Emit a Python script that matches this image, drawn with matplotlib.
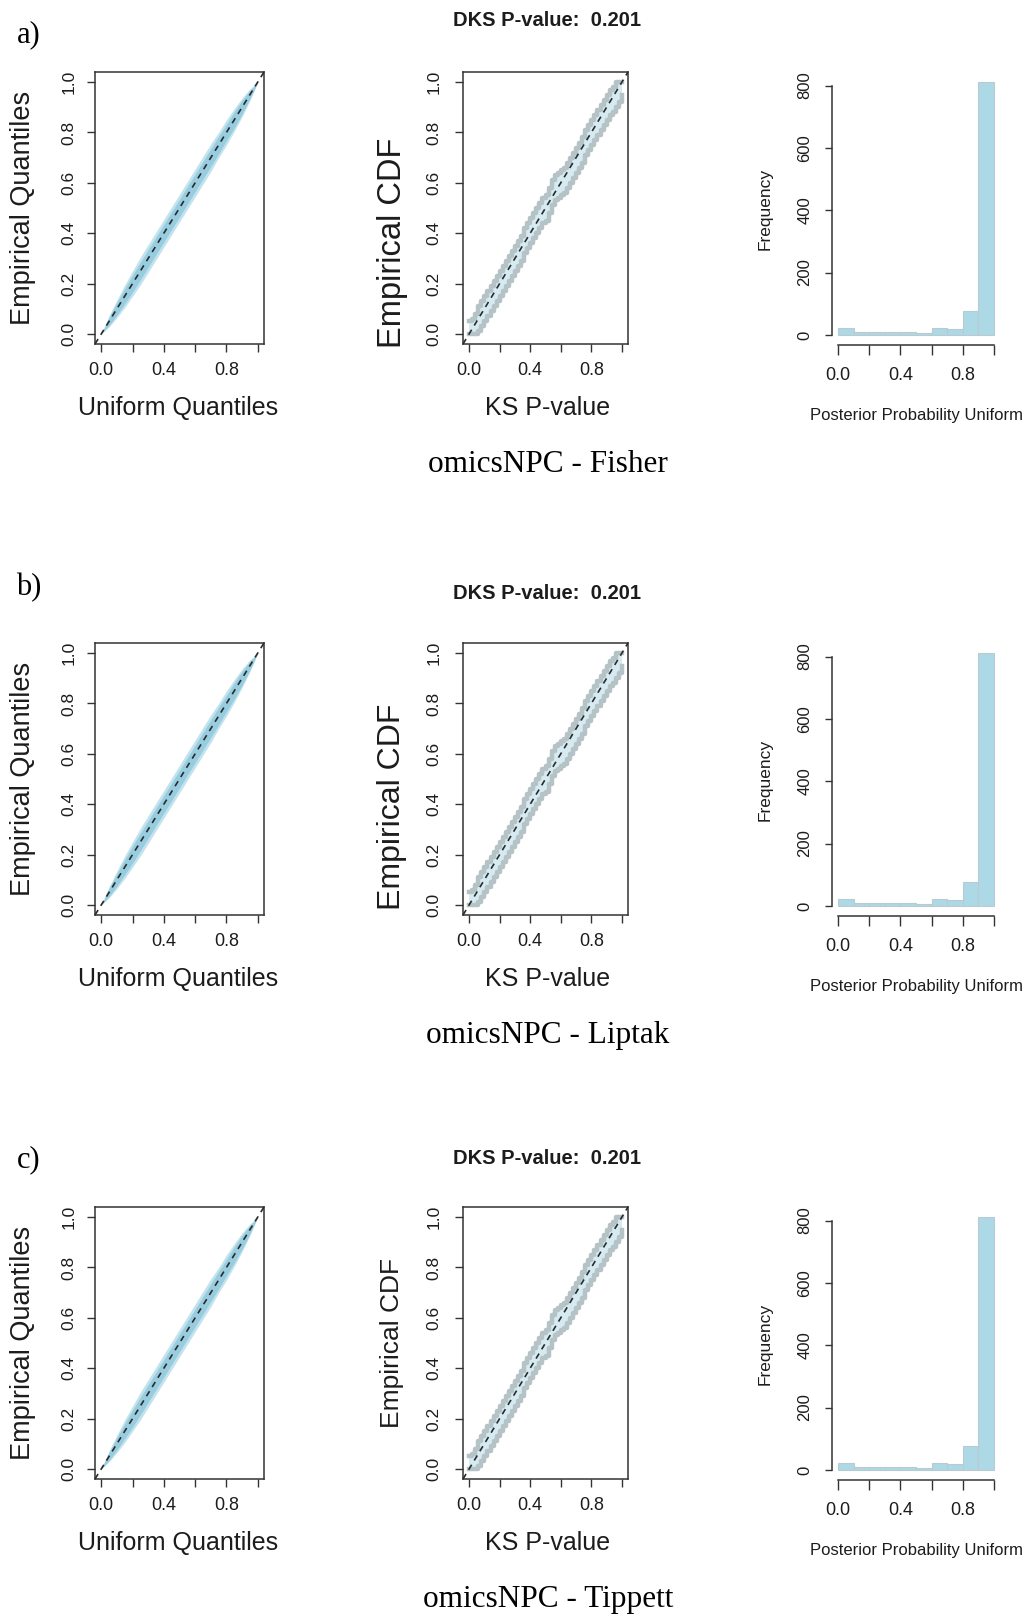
import matplotlib
matplotlib.use("Agg")
import matplotlib.pyplot as plt
import numpy as np

# ---------------- data ----------------
panel_letters = ["a)", "b)", "c)"]
methods = ["omicsNPC - Fisher", "omicsNPC - Liptak", "omicsNPC - Tippett"]
dks_title = "DKS P-value:  0.201"

# QQ band (uniform quantiles vs empirical quantiles)
qq_x = [0.0, 0.05, 0.10, 0.15, 0.20, 0.25, 0.30, 0.35, 0.40, 0.45, 0.50,
        0.55, 0.60, 0.65, 0.70, 0.75, 0.80, 0.85, 0.90, 0.95, 1.0]
qq_outer_lo = [0.0, 0.028, 0.065, 0.105, 0.15, 0.195, 0.245, 0.295, 0.345, 0.395, 0.445,
               0.495, 0.545, 0.595, 0.645, 0.70, 0.75, 0.805, 0.863, 0.927, 1.0]
qq_outer_hi = [0.0, 0.072, 0.135, 0.195, 0.25, 0.305, 0.355, 0.405, 0.455, 0.505, 0.555,
               0.605, 0.655, 0.705, 0.755, 0.80, 0.85, 0.895, 0.937, 0.973, 1.0]
qq_inner_lo = [0.0, 0.034, 0.075, 0.12, 0.166, 0.215, 0.265, 0.315, 0.365, 0.415, 0.465,
               0.515, 0.565, 0.615, 0.665, 0.715, 0.768, 0.818, 0.873, 0.933, 1.0]
qq_inner_hi = [0.0, 0.066, 0.125, 0.18, 0.234, 0.285, 0.335, 0.385, 0.435, 0.485, 0.535,
               0.585, 0.635, 0.685, 0.735, 0.785, 0.832, 0.882, 0.927, 0.967, 1.0]

# ECDF band of KS p-values (upper / lower envelopes, step functions)
ecdf_x = [0.00, 0.02, 0.04, 0.06, 0.08, 0.10, 0.12, 0.14, 0.16, 0.18,
          0.20, 0.22, 0.24, 0.26, 0.28, 0.30, 0.32, 0.34, 0.36, 0.38,
          0.40, 0.42, 0.44, 0.46, 0.48, 0.50, 0.52, 0.54, 0.56, 0.58,
          0.60, 0.62, 0.64, 0.66, 0.68, 0.70, 0.72, 0.74, 0.76, 0.78,
          0.80, 0.82, 0.84, 0.86, 0.88, 0.90, 0.92, 0.94, 0.96, 0.98, 1.00]
ecdf_upper = [0.05, 0.06, 0.08, 0.11, 0.13, 0.15, 0.17, 0.19, 0.21, 0.23,
              0.25, 0.27, 0.29, 0.31, 0.33, 0.35, 0.37, 0.39, 0.42, 0.44,
              0.46, 0.48, 0.50, 0.52, 0.54, 0.55, 0.58, 0.61, 0.63, 0.64,
              0.65, 0.66, 0.68, 0.70, 0.72, 0.74, 0.76, 0.78, 0.81, 0.83,
              0.85, 0.87, 0.89, 0.91, 0.93, 0.95, 0.97, 0.98, 1.00, 1.00, 1.00]
ecdf_lower = [0.00, 0.00, 0.00, 0.01, 0.03, 0.05, 0.07, 0.09, 0.11, 0.13,
              0.15, 0.17, 0.19, 0.21, 0.23, 0.25, 0.27, 0.29, 0.32, 0.34,
              0.36, 0.38, 0.40, 0.42, 0.44, 0.45, 0.48, 0.51, 0.53, 0.54,
              0.55, 0.56, 0.58, 0.60, 0.62, 0.64, 0.66, 0.68, 0.71, 0.73,
              0.75, 0.77, 0.79, 0.81, 0.83, 0.85, 0.87, 0.88, 0.90, 0.92, 0.95]

# Histogram of posterior probability uniform
hist_breaks = [0.0, 0.1, 0.2, 0.3, 0.4, 0.5, 0.6, 0.7, 0.8, 0.9, 1.0]
hist_counts = [22, 10, 10, 10, 10, 7, 23, 19, 78, 811]

unit_ticks = [0.0, 0.2, 0.4, 0.6, 0.8, 1.0]
unit_xlabels = ["0.0", "", "0.4", "", "0.8", ""]
unit_ylabels = ["0.0", "0.2", "0.4", "0.6", "0.8", "1.0"]
freq_ticks = [0, 200, 400, 600, 800]
freq_labels = ["0", "200", "400", "600", "800"]

# ---------------- layout ----------------
W, H = 1025, 1616
fig = plt.figure(figsize=(W / 100, H / 100), dpi=100)
SANS = ["Liberation Sans", "DejaVu Sans"]
SERIF = ["Liberation Serif", "DejaVu Serif"]
TXT = "#1c1c1c"
AXC = "#333333"

def add_ax(l, r, t, b):
    return fig.add_axes([l / W, 1 - b / H, (r - l) / W, (b - t) / H])

row_dy = [0, 571, 1135]
letter_y = [35, 588, 1160]
dks_y = [21, 593, 1158]
caption_y = [464, 1036, 1600]
cdf_label_size = [23.5, 23, 19]
cdf_label_y = [243, 236, 208]

for i in range(3):
    dy = row_dy[i]
    fig.text(29 / W, 1 - letter_y[i] / H, panel_letters[i], family=SERIF,
             fontsize=22, ha="center", va="center", color="black")
    fig.text(547 / W, 1 - dks_y[i] / H, dks_title, family=SANS, fontsize=14.5,
             fontweight="bold", ha="center", va="center", color=TXT)
    fig.text(548 / W, 1 - caption_y[i] / H, methods[i], family=SERIF,
             fontsize=22.5, ha="center", va="center", color="black")

    # ---- QQ plot ----
    ax1 = add_ax(95, 264, 72 + dy, 344 + dy)
    ax1.fill_between(qq_x, qq_outer_lo, qq_outer_hi, color="#c2e3ee", lw=0, zorder=1)
    ax1.fill_between(qq_x, qq_inner_lo, qq_inner_hi, color="#98cddf", lw=0, zorder=2)
    ax1.axline((0, 0), (1, 1), color="#2a2a2a", lw=1.2, dashes=(3.5, 3), zorder=3)

    # ---- ECDF plot ----
    ax2 = add_ax(463, 628, 72 + dy, 344 + dy)
    ax2.fill_between(ecdf_x, ecdf_lower, ecdf_upper, step="post", color="#d5eaf1",
                     lw=0, zorder=1)
    ax2.step(ecdf_x, ecdf_upper, where="post", color="#b5c2c6", lw=3.2, zorder=2)
    ax2.step(ecdf_x, ecdf_lower, where="post", color="#b5c2c6", lw=3.2, zorder=2)
    ax2.axline((0, 0), (1, 1), color="#2a2a2a", lw=1.2, dashes=(3.5, 3), zorder=3)

    for ax, ypad in ((ax1, 7.5), (ax2, 9.5)):
        ax.set_xlim(-0.04, 1.04)
        ax.set_ylim(-0.04, 1.04)
        ax.set_xticks(unit_ticks)
        ax.set_xticklabels(unit_xlabels)
        ax.set_yticks(unit_ticks)
        ax.set_yticklabels(unit_ylabels)
        ax.tick_params(direction="out", length=6, width=1, color=AXC, labelcolor=TXT)
        ax.tick_params(axis="x", labelsize=13, pad=7)
        ax.tick_params(axis="y", labelsize=12.5, pad=ypad, labelrotation=90)
        for lb in ax.get_yticklabels():
            lb.set_va("center")
            lb.set_family(SANS)
        for lb in ax.get_xticklabels():
            lb.set_family(SANS)
        for s in ax.spines.values():
            s.set_color(AXC)
            s.set_linewidth(1.1)

    ax1.set_xlabel("Uniform Quantiles", fontsize=18, family=SANS, color=TXT)
    ax1.xaxis.set_label_coords(0.49, -0.235)
    ax1.xaxis.label.set_va("center")
    ax1.set_ylabel("Empirical Quantiles", fontsize=19.5, family=SANS, color=TXT)
    ax1.yaxis.set_label_coords(-0.426, 0.5)
    ax1.yaxis.label.set_va("center")
    ax1.yaxis.label.set_ha("center")

    ax2.set_xlabel("KS P-value", fontsize=18, family=SANS, color=TXT)
    ax2.xaxis.set_label_coords(0.51, -0.235)
    ax2.xaxis.label.set_va("center")
    ax2.set_ylabel("Empirical CDF", fontsize=cdf_label_size[i], family=SANS, color=TXT)
    ax2.yaxis.set_label_coords(-0.430, (344 - cdf_label_y[i]) / 272)
    ax2.yaxis.label.set_va("center")
    ax2.yaxis.label.set_ha("center")

    # ---- Histogram ----
    ax3 = add_ax(832, 1000, 72 + dy, 345 + dy)
    ax3.hist(hist_breaks[:-1], bins=hist_breaks, weights=hist_counts,
             color="#add8e6", edgecolor="#b9cbd1", linewidth=0.8)
    top = max(hist_counts)
    ax3.set_xlim(-0.04, 1.04)
    ax3.set_ylim(-0.04 * top, 1.04 * top)
    ax3.spines["top"].set_visible(False)
    ax3.spines["right"].set_visible(False)
    ax3.spines["left"].set_bounds(0, 800)
    ax3.spines["bottom"].set_bounds(0, 1)
    for s in ("left", "bottom"):
        ax3.spines[s].set_color(AXC)
        ax3.spines[s].set_linewidth(1.1)
    ax3.set_xticks(unit_ticks)
    ax3.set_xticklabels(unit_xlabels)
    ax3.set_yticks(freq_ticks)
    ax3.set_yticklabels(freq_labels)
    ax3.tick_params(direction="out", width=1, color=AXC, labelcolor=TXT)
    ax3.tick_params(axis="x", labelsize=13, pad=9, length=7)
    ax3.tick_params(axis="y", labelsize=12, pad=9, length=5, labelrotation=90)
    for lb in ax3.get_yticklabels():
        lb.set_va("center")
        lb.set_family(SANS)
    for lb in ax3.get_xticklabels():
        lb.set_family(SANS)
    ax3.set_xlabel("Posterior Probability Uniform", fontsize=12, family=SANS, color=TXT)
    ax3.xaxis.set_label_coords(0.5, -0.258)
    ax3.xaxis.label.set_va("center")
    ax3.set_ylabel("Frequency", fontsize=12.5, family=SANS, color=TXT)
    ax3.yaxis.set_label_coords(-0.399, 0.5)
    ax3.yaxis.label.set_va("center")
    ax3.yaxis.label.set_ha("center")

fig.savefig("out.png", dpi=100, facecolor="white")
